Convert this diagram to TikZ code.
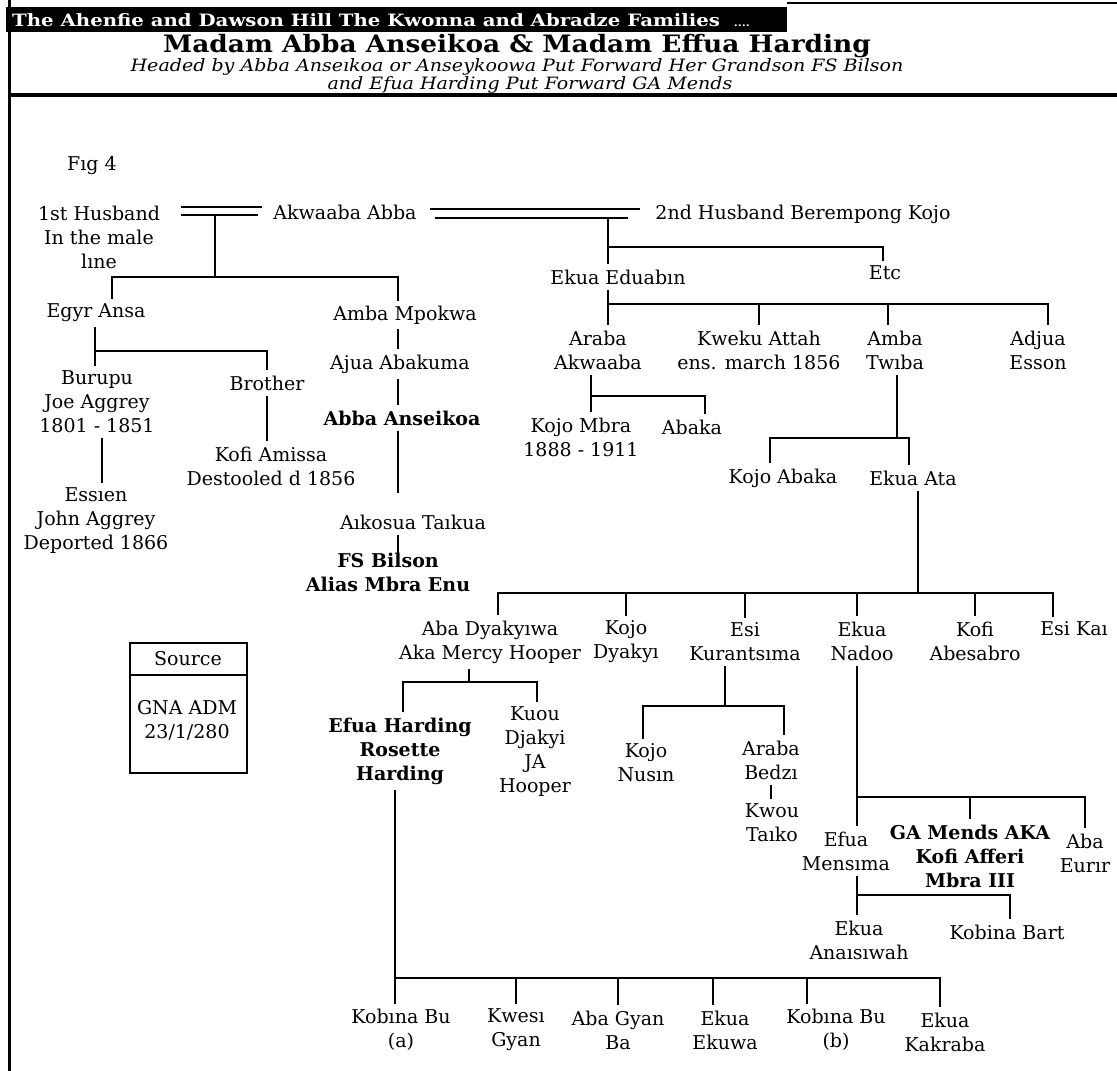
\documentclass[tikz,border=0pt]{standalone}
\usepackage{fontspec}
\setmainfont{DejaVu Serif}
\newfontfamily\hdrfam{DejaVu Serif}[FakeStretch=1.16]
\newfontfamily\ttlfam{DejaVu Serif}[FakeStretch=1.1]
\newfontfamily\subfam{DejaVu Serif}[FakeStretch=1.12]
\usetikzlibrary{calc}
\newcommand\fsbody{\fontsize{19}{24}\selectfont}
\newcommand\fsbold{\fontsize{19}{24}\selectfont\bfseries}
\newcommand\fstitle{\ttlfam\fontsize{24}{28}\selectfont\bfseries}
\newcommand\fssub{\subfam\fontsize{17}{19}\selectfont\itshape}
\newcommand\fshead{\hdrfam\fontsize{17}{20}\selectfont\bfseries}
\begin{document}
\begin{tikzpicture}[x=1pt,y=-1pt,
  lbl/.style={font=\fsbody, align=center, inner xsep=2pt, inner ysep=5pt},
  blbl/.style={lbl, font=\fsbold},
  ln/.style={line width=2.6pt},
  boxln/.style={line width=2.6pt}]
\useasboundingbox (0,0) rectangle (1117,1071);
% ---------- header ----------
\fill[black] (6,7) rectangle (787,32);
\node[anchor=west, text=white, font=\fshead, inner sep=0] (hdr) at (12,20) {The Ahenfie and Dawson Hill The Kwonna and Abradze Families \ {\fontsize{10}{10}\selectfont ....}};
\draw[line width=1.2pt] (787,3) -- (1117,3);
\draw[line width=3pt] (9,0) -- (9,1071);
\draw[line width=3.5pt] (9,95) -- (1117,95);
\node[font=\fstitle, inner sep=0] (title) at (517,46) {Madam Abba Anseikoa \& Madam Effua Harding};
\node[font=\fssub, inner sep=0] (sub1) at (517,67) {Headed by Abba Anseıkoa or Anseykoowa Put Forward Her Grandson FS Bilson};
\node[font=\fssub, inner sep=0] (sub2) at (530,85) {and Efua Harding Put Forward GA Mends};
% ---------- people ----------
\node[lbl] (fig) at (92,166) {Fıg 4};
\node[lbl] (husb1) at (99,237) {1st Husband\\In the male\\lıne};
\node[lbl] (akwaaba) at (345,212) {Akwaaba Abba};
\node[lbl] (husb2) at (803,214) {2nd Husband Berempong Kojo};
\node[lbl] (egyr) at (96,313) {Egyr Ansa};
\node[lbl] (amba1) at (405,315) {Amba Mpokwa};
\node[lbl] (eduabin) at (618,277) {Ekua Eduabın};
\node[lbl] (etc) at (885,273) {Etc};
\node[lbl] (burupu) at (97,402) {Burupu\\Joe Aggrey\\1801 - 1851};
\node[lbl] (brother) at (267,383) {Brother};
\node[lbl] (ajua) at (400,364) {Ajua Abakuma};
\node[blbl] (abba) at (402,418) {Abba Anseikoa};
\node[lbl] (kofiam) at (271,466) {Kofi Amissa\\Destooled d 1856};
\node[lbl] (essien) at (96,521) {Essıen\\John Aggrey\\Deported 1866};
\node[lbl] (aikosua) at (413,522) {Aıkosua Taıkua};
\node[blbl] (bilson) at (388,572) {FS Bilson\\Alias Mbra Enu};
\node[lbl] (araba1) at (598,350) {Araba\\Akwaaba};
\node[lbl] (kweku) at (759,350) {Kweku Attah\\ens. march 1856};
\node[lbl] (amba2) at (895,350) {Amba\\Twıba};
\node[lbl] (adjua) at (1038,350) {Adjua\\Esson};
\node[lbl] (kojombra) at (581,437) {Kojo Mbra\\1888 - 1911};
\node[lbl] (abaka) at (692,427) {Abaka};
\node[lbl] (kojoabaka) at (783,478) {Kojo Abaka};
\node[lbl] (ekuaata) at (913,478) {Ekua Ata};
\node[lbl] (abadyak) at (490,642) {Aba Dyakyıwa\\Aka Mercy Hooper};
\node[lbl] (kojodyak) at (626,642) {Kojo\\Dyakyı};
\node[lbl] (esikur) at (745,642) {Esi\\Kurantsıma};
\node[lbl] (ekuanadoo) at (862,641) {Ekua\\Nadoo};
\node[lbl] (kofiabes) at (975,641) {Kofi\\Abesabro};
\node[lbl] (esikai) at (1074,629) {Esi Kaı};
\node[blbl] (efuah) at (400,751) {Efua Harding\\Rosette\\Harding};
\node[lbl] (kuou) at (535,752) {Kuou\\Djakyi\\JA\\Hooper};
\node[lbl] (kojonusin) at (646,763) {Kojo\\Nusın};
\node[lbl] (bedzi) at (771,760) {Araba\\Bedzı};
\node[lbl] (kwou) at (772,823) {Kwou\\Taıko};
\node[lbl] (mensima) at (846,851) {Efua\\Mensıma};
\node[blbl] (gamends) at (970,856) {GA Mends AKA\\Kofi Afferi\\Mbra III};
\node[lbl] (eurir) at (1085,853) {Aba\\Eurır};
\node[lbl] (anaisiwah) at (859,940) {Ekua\\Anaısıwah};
\node[lbl] (bart) at (1007,932) {Kobina Bart};
\node[lbl] (bua) at (401,1030) {Kobına Bu\\(a)};
\node[lbl] (kwesi) at (516,1030) {Kwesı\\Gyan};
\node[lbl] (abagyan) at (618,1030) {Aba Gyan\\Ba};
\node[lbl] (ekuwa) at (725,1030) {Ekua\\Ekuwa};
\node[lbl] (bub) at (836,1030) {Kobına Bu\\(b)};
\node[lbl] (kakraba) at (945,1032) {Ekua\\Kakraba};
% ---------- source box ----------
\draw[boxln] (130,643) rectangle (247,773);
\draw[boxln] (130,675) -- (247,675);
\node[lbl] (src) at (188,659) {Source};
\node[lbl] (gna) at (187,720) {GNA ADM\\23/1/280};
% ---------- junctions ----------
\coordinate (m1ua) at (181,207); \coordinate (m1ub) at (262,207);
\coordinate (m1la) at (181,215); \coordinate (m1lb) at (258,215);
\coordinate (u1) at (215,215);
\coordinate (b1l) at (112,277); \coordinate (b1r) at (398,277);
\coordinate (b2l) at (95,351); \coordinate (b2r) at (267,351);
\coordinate (x102) at (102,0);
\coordinate (v4) at (398,0);
\coordinate (m2ua) at (430,209); \coordinate (m2ub) at (640,209);
\coordinate (m2la) at (435,218); \coordinate (m2lb) at (628,218);
\coordinate (u2) at (608,218);
\coordinate (b3l) at (608,247); \coordinate (b3r) at (883,247);
\coordinate (b4l) at (608,304); \coordinate (b4r) at (1048,304);
\coordinate (t4) at (888,304);
\coordinate (b5l) at (591,396); \coordinate (b5r) at (705,396);
\coordinate (c6) at (897,438); \coordinate (b6l) at (770,438); \coordinate (b6r) at (909,438);
\coordinate (c7) at (918,593); \coordinate (b7l) at (498,593); \coordinate (b7r) at (1053,593);
\coordinate (c8) at (469,682); \coordinate (b8l) at (403,682); \coordinate (b8r) at (537,682);
\coordinate (c9) at (725,706); \coordinate (b9l) at (643,706); \coordinate (b9r) at (784,706);
\coordinate (c10) at (857,797); \coordinate (b10r) at (1085,797);
\coordinate (b11l) at (857,895); \coordinate (b11r) at (1010,895);
\coordinate (b12l) at (395,978); \coordinate (b12r) at (940,978);
\coordinate (t12c) at (713,978); \coordinate (t12d) at (807,978);
% ---------- connectors ----------
\draw[ln] (m1ua) -- (m1ub);
\draw[ln] (m1la) -- (m1lb);
\draw[ln] (u1) -- (u1 |- b1l);
\draw[ln] (egyr.north -| b1l) -- (b1l) -- (b1r) -- (amba1.north -| b1r);
\draw[ln] (egyr.south -| b2l) -- (burupu.north -| b2l);
\draw[ln] (b2l) -- (b2r) -- (brother.north -| b2r);
\draw[ln] (brother.south) -- (kofiam.north -| brother.south);
\draw[ln] (burupu.south -| x102) -- (essien.north -| x102);
\draw[ln] (amba1.south -| v4) -- (ajua.north -| v4);
\draw[ln] (ajua.south -| v4) -- (abba.north -| v4);
\draw[ln] (abba.south -| v4) -- ($(aikosua.north -| v4)+(0,-16)$);
\draw[ln] (aikosua.south -| v4) -- ($(bilson.north -| v4)+(0,6)$);
\draw[ln] (m2ua) -- (m2ub);
\draw[ln] (m2la) -- (m2lb);
\draw[ln] (u2) -- (eduabin.north -| u2);
\draw[ln] (b3l) -- (b3r) -- (etc.north -| b3r);
\draw[ln] (eduabin.south -| b4l) -- (araba1.north -| b4l);
\draw[ln] (b4l) -- (b4r) -- (adjua.north -| b4r);
\draw[ln] (kweku.north |- b4l) -- (kweku.north);
\draw[ln] (t4) -- (amba2.north -| t4);
\draw[ln] (araba1.south -| b5l) -- (kojombra.north -| b5l);
\draw[ln] (b5l) -- (b5r) -- (abaka.north -| b5r);
\draw[ln] (amba2.south -| c6) -- (c6);
\draw[ln] (kojoabaka.north -| b6l) -- (b6l) -- (b6r) -- (ekuaata.north -| b6r);
\draw[ln] (ekuaata.south -| c7) -- (c7);
\draw[ln] (abadyak.north -| b7l) -- (b7l) -- (b7r) -- (esikai.north -| b7r);
\draw[ln] (kojodyak.north |- b7l) -- (kojodyak.north);
\draw[ln] (esikur.north |- b7l) -- (esikur.north);
\draw[ln] (c10 |- b7l) -- (ekuanadoo.north -| c10);
\draw[ln] (kofiabes.north |- b7l) -- (kofiabes.north);
\draw[ln] (abadyak.south -| c8) -- (c8);
\draw[ln] (efuah.north -| b8l) -- (b8l) -- (b8r) -- (kuou.north -| b8r);
\draw[ln] (esikur.south -| c9) -- (c9);
\draw[ln] (kojonusin.north -| b9l) -- (b9l) -- (b9r) -- (bedzi.north -| b9r);
\draw[ln] (bedzi.south) -- (kwou.north -| bedzi.south);
\draw[ln] (ekuanadoo.south -| c10) -- (mensima.north -| c10);
\draw[ln] (c10) -- (b10r) -- (eurir.north -| b10r);
\draw[ln] (gamends.north |- c10) -- (gamends.north);
\draw[ln] (mensima.south -| b11l) -- (anaisiwah.north -| b11l);
\draw[ln] (b11l) -- (b11r) -- (bart.north -| b11r);
\draw[ln] (efuah.south -| b12l) -- (bua.north -| b12l);
\draw[ln] (b12l) -- (b12r) -- (kakraba.north -| b12r);
\draw[ln] (kwesi.north |- b12l) -- (kwesi.north);
\draw[ln] (abagyan.north |- b12l) -- (abagyan.north);
\draw[ln] (t12c) -- (ekuwa.north -| t12c);
\draw[ln] (t12d) -- (bub.north -| t12d);
\end{tikzpicture}
\end{document}
